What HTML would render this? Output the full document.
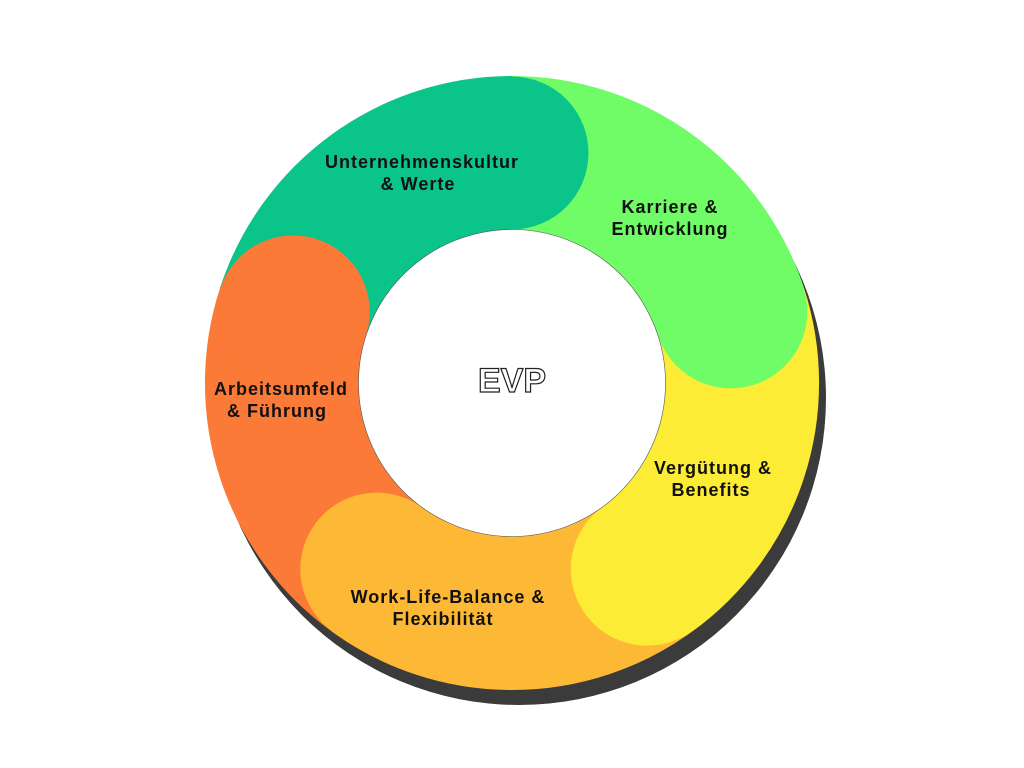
<!DOCTYPE html>
<html><head><meta charset="utf-8"><style>
html,body{margin:0;padding:0;background:#fff;}
svg{display:block;}
text{font-family:"Liberation Sans",sans-serif;font-weight:bold;font-size:18px;letter-spacing:1px;fill:#111;text-anchor:middle;}
</style></head><body>
<svg width="1024" height="768" viewBox="0 0 1024 768">
<circle cx="519" cy="398" r="307" fill="#3b3b3b"/>
<g fill="none" stroke-width="154">
<path d="M293.2,311.9 A230 230 0 0 1 512,153" stroke="#0ac48a"/>
<path d="M512,153 A230 230 0 0 1 730.8,311.9" stroke="#6ffc67"/>
<path d="M730.8,311.9 A230 230 0 0 1 647.2,569.1" stroke="#fdec35"/>
<path d="M647.2,569.1 A230 230 0 0 1 376.8,569.1" stroke="#fdb935"/>
<path d="M376.8,569.1 A230 230 0 0 1 293.2,311.9" stroke="#fc7a37"/>
</g>
<circle cx="512" cy="153" r="76.5" fill="#0ac48a"/>
<circle cx="730.8" cy="311.9" r="76.5" fill="#6ffc67"/>
<circle cx="647.2" cy="569.1" r="76.5" fill="#fdec35"/>
<circle cx="376.8" cy="569.1" r="76.5" fill="#fdb935"/>
<circle cx="293.2" cy="311.9" r="76.5" fill="#fc7a37"/>
<circle cx="512" cy="383" r="153.5" fill="#fff" stroke="#555" stroke-width="0.6"/>
<text x="512" y="392" style="font-size:34px;letter-spacing:0;fill:#fff;stroke:#222;stroke-width:1.2">EVP</text>
<text x="422" y="168">Unternehmenskultur</text><text x="418" y="190">&amp; Werte</text>
<text x="670" y="213">Karriere &amp;</text><text x="670" y="235">Entwicklung</text>
<text x="713" y="474">Vergütung &amp;</text><text x="711" y="496">Benefits</text>
<text x="448" y="603">Work-Life-Balance &amp;</text><text x="443" y="625">Flexibilität</text>
<text x="281" y="395">Arbeitsumfeld</text><text x="277" y="417">&amp; Führung</text>
</svg>
</body></html>
